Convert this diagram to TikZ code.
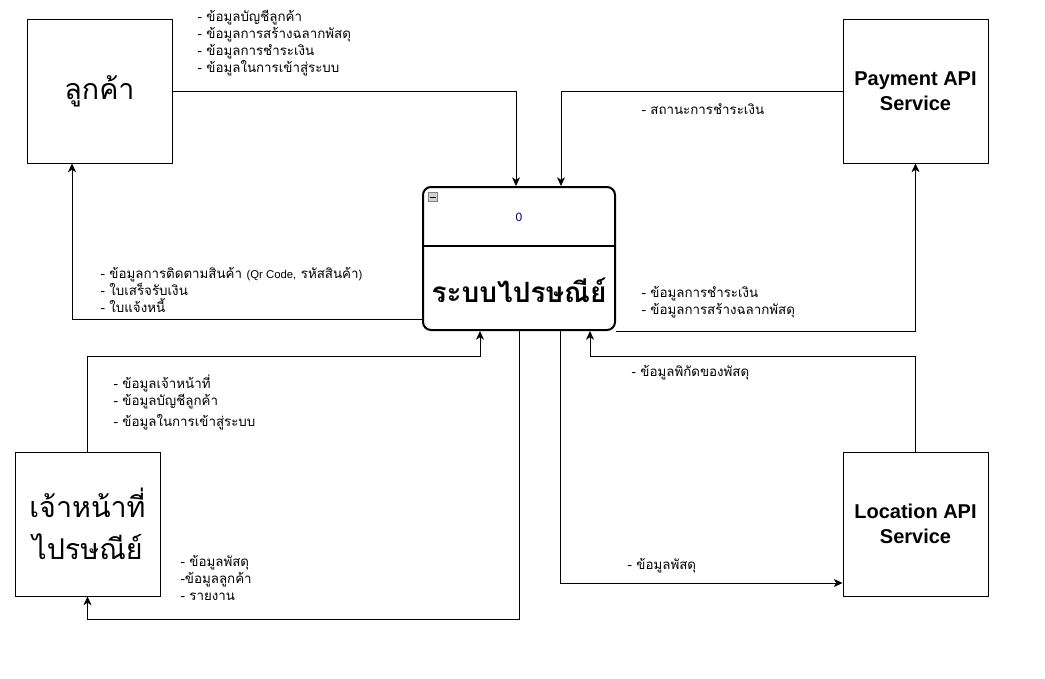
\documentclass[tikz,border=0pt]{standalone}
\usepackage{fontspec}
\setmainfont{Liberation Sans}
\newfontfamily\thaifont[Script=Thai]{Loma}
\usetikzlibrary{arrows.meta,calc}

\def\boxw{108.75pt}
\def\boxh{108pt}

\begin{document}
\begin{tikzpicture}[x=0.75pt,y=-0.75pt,line width=0.75pt,>={Stealth[length=6.5pt,width=6pt,inset=1.8pt]}]
	\tikzstyle{entity}=[draw,rectangle,minimum width=\boxw,minimum height=\boxh,inner sep=0pt,align=center]
	\tikzstyle{thai entity}=[entity,font=\thaifont\fontsize{21.5}{31.5}\selectfont]
	\tikzstyle{api entity}=[entity,font=\bfseries\fontsize{15}{18.75}\selectfont]
	\tikzstyle{process}=[draw,rectangle,rounded corners=6pt,line width=1.5pt,minimum width=144pt,minimum height=107.25pt,inner sep=0pt]
	\tikzstyle{annot}=[anchor=west,align=left,inner sep=0pt,font=\thaifont\fontsize{10}{12.75}\selectfont]
	\tikzstyle{flow}=[->]

	\useasboundingbox (0,0) rectangle (1045,678);

	% Draw the external entities
	\node[thai entity] (cust) at (99.5,91) {ลูกค้า};
	\node[thai entity] (staff) at (87.5,524) {เจ้าหน้าที่\\ไปรษณีย์};
	\node[api entity] (pay) at (915.5,91) {Payment API\\Service};
	\node[api entity] (loc) at (915.5,524) {Location API\\Service};

	% Draw the process
	\node[process] (sys) at (519,258.5) {};
	\draw[line width=1.5pt] ($(sys.west)+(0,-12.5)$) -- ($(sys.east)+(0,-12.5)$);
	\node[font=\fontsize{9}{11}\selectfont,text={rgb,255:red,0;green,0;blue,120}] (sysid) at (519,217) {0};
	\node[font=\thaifont\bfseries\fontsize{21}{25}\selectfont] (sysname) at (519,290) {ระบบไปรษณีย์};
	\node[draw=gray,fill=gray!35,line width=0.5pt,minimum size=6.5pt,inner sep=0pt] (sysicon) at (433,197) {};
	\draw[line width=0.6pt] ([xshift=1.2pt]sysicon.west) -- ([xshift=-1.2pt]sysicon.east);

	% Connect the entities with the process
	\draw[flow] (cust.east) -| ($(sys.north)+(-3,0)$);
	\draw[flow] (pay.west) -| ($(sys.north)+(42,0)$);
	\draw[flow] ($(sys.west)+(0,60.5)$) -| ($(cust.south)+(-27.5,0)$);
	\draw[flow] (sys.south east) -| (pay.south);
	\draw[flow] (staff.north) |- ($(sys.south)+(-39,25)$) -- ($(sys.south)+(-39,0)$);
	\draw[flow] (sys.south) -- ++(0,288.5) -| (staff.south);
	\draw[flow] (loc.north) |- ($(sys.south)+(71,25)$) -- ($(sys.south)+(71,0)$);
	\draw[flow] ($(sys.south)+(41,0)$) |- ($(loc.west)+(0,59)$);

	% Annotate the flows
	\node[annot] (l-cust) at (197,43.5) {- ข้อมูลบัญชีลูกค้า\\- ข้อมูลการสร้างฉลากพัสดุ\\- ข้อมูลการชำระเงิน\\- ข้อมูลในการเข้าสู่ระบบ};
	\node[annot] (l-pay) at (641,109) {- สถานะการชำระเงิน};
	\node[annot] (l-track) at (100,289.5) {- ข้อมูลการติดตามสินค้า {\normalfont\fontsize{8.5}{12.75}\selectfont(Qr Code,} รหัสสินค้า{\normalfont\fontsize{8.5}{12.75}\selectfont)}\\- ใบเสร็จรับเงิน\\- ใบแจ้งหนี้};
	\node[annot] (l-bill) at (641,302) {- ข้อมูลการชำระเงิน\\- ข้อมูลการสร้างฉลากพัสดุ};
	\node[annot] (l-staff) at (113,402) {- ข้อมูลเจ้าหน้าที่\\- ข้อมูลบัญชีลูกค้า\\[3pt]- ข้อมูลในการเข้าสู่ระบบ};
	\node[annot] (l-report) at (180,577.5) {- ข้อมูลพัสดุ\\-ข้อมูลลูกค้า\\- รายงาน};
	\node[annot] (l-geo) at (631,373) {- ข้อมูลพิกัดของพัสดุ};
	\node[annot] (l-parcel) at (627,566) {- ข้อมูลพัสดุ};
\end{tikzpicture}
\end{document}
